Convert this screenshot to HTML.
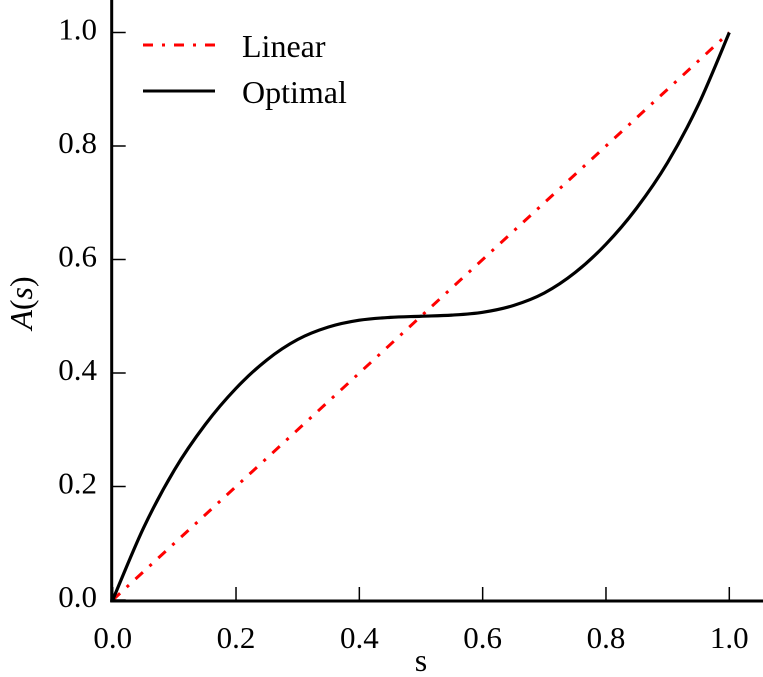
<!DOCTYPE html>
<html><head><meta charset="utf-8"><style>
html,body{margin:0;padding:0;background:#fff;}
svg{display:block;font-family:"Liberation Serif",serif;}
</style></head><body>
<svg id="chart" width="763" height="677" viewBox="0 0 763 677">
<g id="plot"></g>
</svg>
<script>
const sValues=[0,0.05,0.1,0.15,0.2,0.25,0.3,0.35,0.4,0.45,0.5,0.55,0.6,0.65,0.7,0.75,0.8,0.85,0.9,0.95,1.0];
const optimalValues=[0,0.127,0.229,0.309,0.373,0.423,0.459,0.481,0.493,0.498,0.5,0.502,0.507,0.519,0.541,0.577,0.627,0.691,0.771,0.873,1.0];
const linearValues=[0,1];
const linearS=[0,1];
const xTicks=[0,0.2,0.4,0.6,0.8,1.0];
const yTicks=[0,0.2,0.4,0.6,0.8,1.0];
const xTickLabels=["0.0","0.2","0.4","0.6","0.8","1.0"];
const yTickLabels=["0.0","0.2","0.4","0.6","0.8","1.0"];

const X0=112.7,X1=729.3,Y0=600,Y1=32.5;
const xs=v=>X0+(X1-X0)*v;
const ys=v=>Y0-(Y0-Y1)*v;
const NS="http://www.w3.org/2000/svg";
const g=document.getElementById('plot');
function mk(tag,attrs,parent){const e=document.createElementNS(NS,tag);for(const k in attrs)e.setAttribute(k,attrs[k]);(parent||g).appendChild(e);return e;}

let ld=linearS.map((s,i)=>(i?'L':'M')+xs(s)+','+ys(linearValues[i])).join(' ');
let lin=mk('path',{d:ld,fill:'none',stroke:'#ff0000','stroke-width':3,'stroke-dasharray':'10,9,3,9'});



const pts=sValues.map((s,i)=>[xs(s),ys(optimalValues[i])]);
let d='M'+pts[0][0]+','+pts[0][1];
for(let i=0;i<pts.length-1;i++){
  const p0=pts[Math.max(0,i-1)],p1=pts[i],p2=pts[i+1],p3=pts[Math.min(pts.length-1,i+2)];
  const c1=[p1[0]+(p2[0]-p0[0])/6,p1[1]+(p2[1]-p0[1])/6];
  const c2=[p2[0]-(p3[0]-p1[0])/6,p2[1]-(p3[1]-p1[1])/6];
  d+=' C'+c1+' '+c2+' '+p2;
}
let opt=mk('path',{d:d,fill:'none',stroke:'#000','stroke-width':3.2,'stroke-linejoin':'round'});



let sl=mk('line',{x1:X0-1,y1:0,x2:X0-1,y2:Y0+2,stroke:'#000','stroke-width':3});


let sb=mk('line',{x1:X0-2.5,y1:Y0+1,x2:763,y2:Y0+1,stroke:'#000','stroke-width':3});



xTicks.forEach((v,i)=>{
  let t=mk('line',{x1:xs(v),y1:Y0,x2:xs(v),y2:Y0-13,stroke:'#000','stroke-width':1.5});
  
  
  let l=mk('text',{x:xs(v),y:648,'text-anchor':'middle','font-size':31});
  l.textContent=xTickLabels[i];
  
  
});
yTicks.forEach((v,i)=>{
  let t=mk('line',{x1:X0,y1:ys(v),x2:X0+13,y2:ys(v),stroke:'#000','stroke-width':1.5});
  
  
  let l=mk('text',{x:97,y:ys(v)+7,'text-anchor':'end','font-size':31});
  l.textContent=yTickLabels[i];
  
  
});

let xt=mk('text',{x:(X0+X1)/2,y:671,'text-anchor':'middle','font-size':32});
xt.textContent='s';


let yt=mk('text',{x:0,y:0,'text-anchor':'middle','font-size':32,transform:'translate(32,303) rotate(-90)'});
yt.innerHTML='<tspan font-style="italic">A</tspan>(<tspan font-style="italic">s</tspan>)';



let lg=mk('g',{});


let l1=mk('line',{x1:143,y1:45,x2:215,y2:45,stroke:'#ff0000','stroke-width':3,'stroke-dasharray':'10,9,3,9'},lg);


let t1=mk('text',{x:242,y:57,'font-size':32},lg);
t1.textContent='Linear';


let l2=mk('line',{x1:143,y1:91,x2:215,y2:91,stroke:'#000','stroke-width':3},lg);


let t2=mk('text',{x:242,y:103,'font-size':32},lg);
t2.textContent='Optimal';


</script>
</body></html>
